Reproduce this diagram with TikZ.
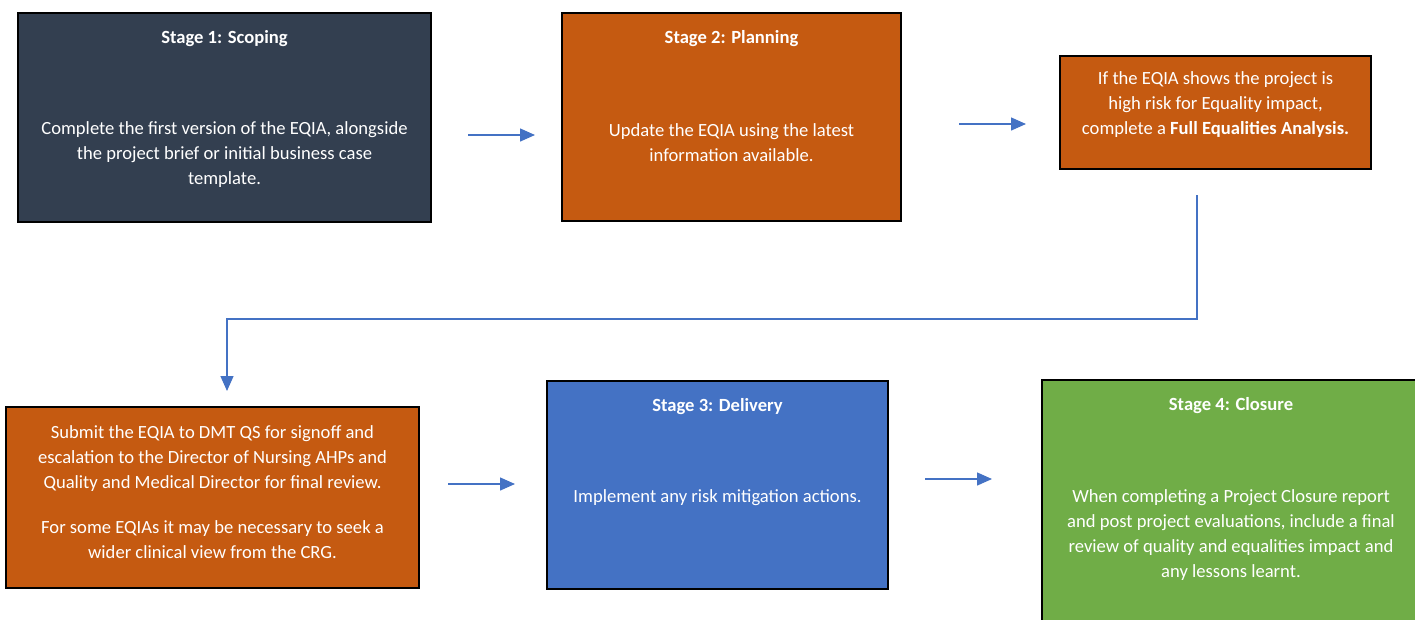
\documentclass[tikz,border=0pt]{standalone}
\usepackage{fontspec}
\setmainfont{Carlito}
\usetikzlibrary{arrows.meta}
\definecolor{slate}{HTML}{333F50}
\definecolor{rust}{HTML}{C55A11}
\definecolor{royal}{HTML}{4472C4}
\definecolor{leaf}{HTML}{70AD47}
\tikzset{
  stagebox/.style={draw=black, line width=1.6pt},
  boxtext/.style={text=white, align=center, font=\fontsize{18.6}{25}\selectfont, inner sep=0pt},
  boxtitle/.style={text=white, font=\fontsize{18.6}{25}\selectfont\bfseries, inner sep=0pt},
  flow/.style={draw=royal, line width=1.4pt, -{Triangle[length=15pt,width=13pt]}},
}
\begin{document}
\begin{tikzpicture}[x=1pt,y=-1pt]
\useasboundingbox (0,0) rectangle (1415,619);

% stage boxes
\path[stagebox, fill=slate] (18,13) rectangle (431,222);
\path[stagebox, fill=rust] (562,13) rectangle (901,221);
\path[stagebox, fill=rust] (1060,56) rectangle (1371,169);
\path[stagebox, fill=rust] (6,407) rectangle (419,588);
\path[stagebox, fill=royal] (547,381) rectangle (888,589);
\path[stagebox, fill=leaf] (1042,380) rectangle (1425,630);

% box texts
\node[boxtitle] (t1) at (224.5,39) {Stage 1: Scoping};
\node[boxtext] (b1) at (224.5,155) {Complete the first version of the EQIA, alongside\\the project brief or initial business case\\template.};

\node[boxtitle] (t2) at (731.5,39) {Stage 2: Planning};
\node[boxtext] (b2) at (731.5,142.5) {Update the EQIA using the latest\\information available.};

\node[boxtext] (b3) at (1215.5,105) {If the EQIA shows the project is\\high risk for Equality impact,\\complete a \textbf{Full Equalities Analysis.}};

\node[boxtext] (b4) at (212.5,492) {Submit the EQIA to DMT QS for signoff and\\escalation to the Director of Nursing AHPs and\\Quality and Medical Director for final review.\\[20pt]For some EQIAs it may be necessary to seek a\\wider clinical view from the CRG.};

\node[boxtitle] (t5) at (717.5,407) {Stage 3: Delivery};
\node[boxtext] (b5) at (717.5,498) {Implement any risk mitigation actions.};

\node[boxtitle] (t6) at (1231,406) {Stage 4: Closure};
\node[boxtext] (b6) at (1231,535.5) {When completing a Project Closure report\\and post project evaluations, include a final\\review of quality and equalities impact and\\any lessons learnt.};

% connector end points
\coordinate (a1s) at (468,135);
\coordinate (a1e) at (535,135);
\coordinate (a2s) at (959,124);
\coordinate (a2e) at (1026,124);
\coordinate (a3s) at (1197,195);
\coordinate (a3k) at (1197,319);
\coordinate (a3e) at (227,391);
\coordinate (a4s) at (448,484);
\coordinate (a4e) at (515,484);
\coordinate (a5s) at (925,479);
\coordinate (a5e) at (992,479);

% connectors
\draw[flow] (a1s) -- (a1e);
\draw[flow] (a2s) -- (a2e);
\draw[flow] (a3s) -- (a3k) -| (a3e);
\draw[flow] (a4s) -- (a4e);
\draw[flow] (a5s) -- (a5e);
\end{tikzpicture}
\end{document}
